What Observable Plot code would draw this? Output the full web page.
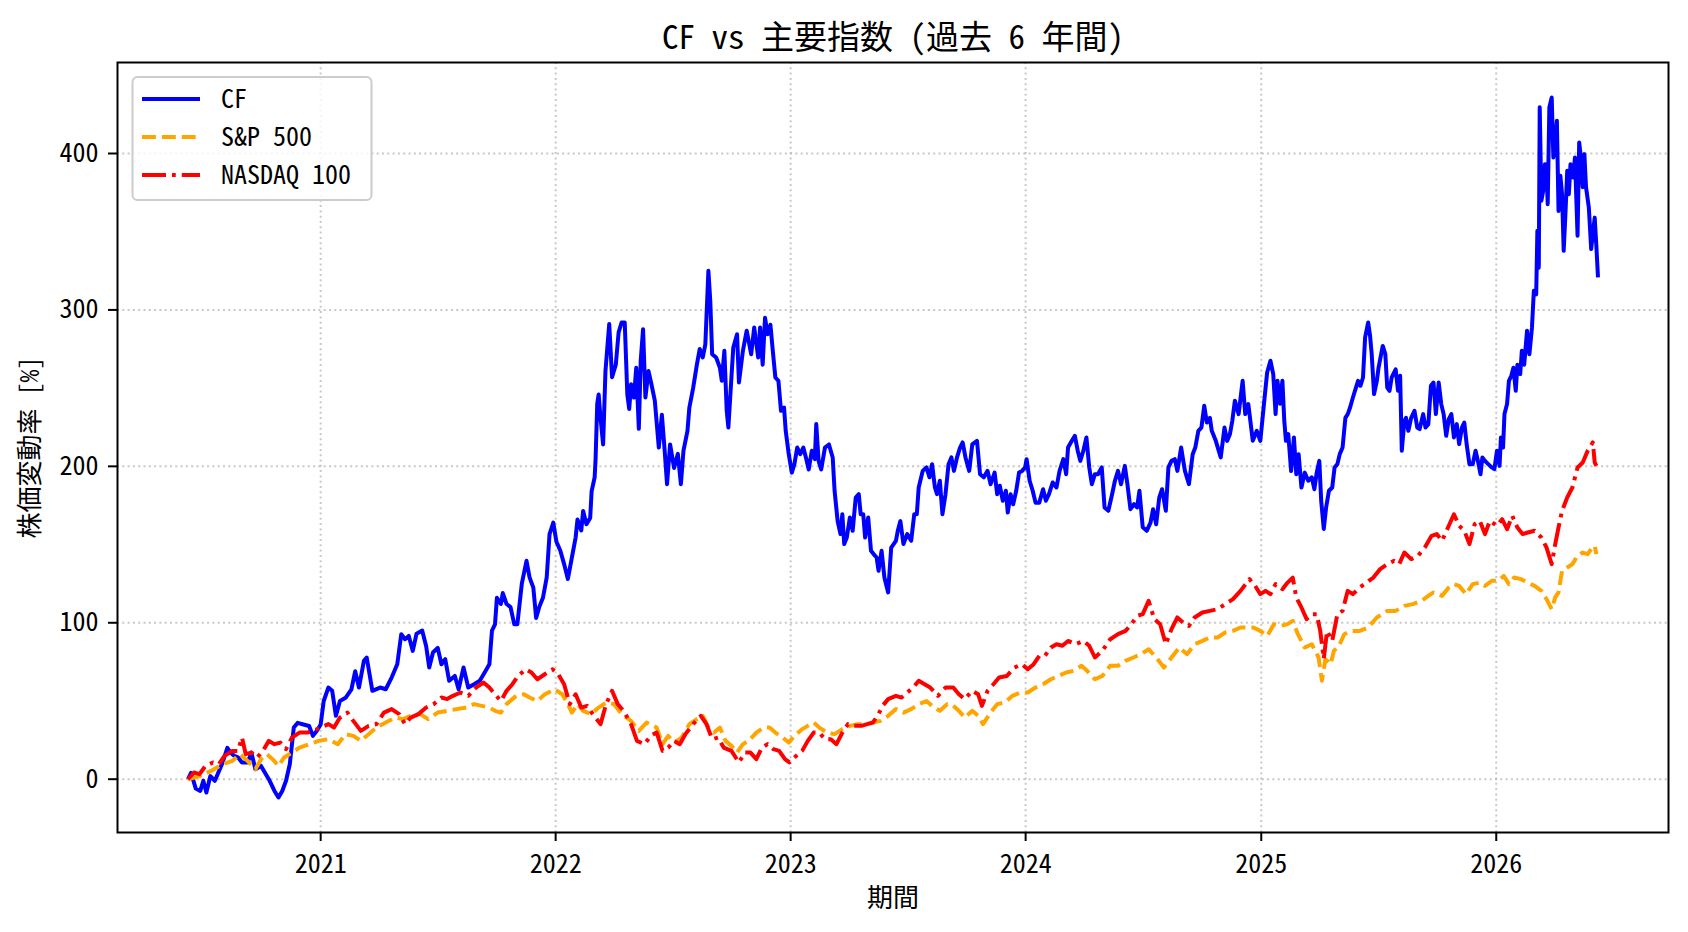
<!DOCTYPE html>
<html>
<head>
<meta charset="utf-8">
<script src="https://cdn.jsdelivr.net/npm/d3@7"></script>
<script src="https://cdn.jsdelivr.net/npm/@observablehq/plot@0.6"></script>
<style>
  html, body { margin: 0; padding: 0; background: #ffffff; }
  #chart { width: 1688px; height: 932px; }
</style>
</head>
<body>
<div id="chart"></div>
<script>
// ---- Data (decimal year, % change) ----
const titleText = "CF vs 主要指数 (過去 6 年間)";
const xLabel = "期間";
const yLabel = "株価変動率 [%]";
const seriesNames = ["CF", "S&P 500", "NASDAQ 100"];
const seriesColors = ["blue", "orange", "red"];
const xTickYears = [2021, 2022, 2023, 2024, 2025, 2026];
const yTickValues = [0, 100, 200, 300, 400];

const cfSeries = [
[2020.437,0],[2020.450,4],[2020.470,-6],[2020.489,-7.5],[2020.502,-1],[2020.515,-8.5],[2020.532,2],[2020.551,-1],[2020.568,5],[2020.584,10.7],[2020.604,20],[2020.617,17],[2020.633,15],[2020.649,14],[2020.666,10.7],[2020.690,10.7],[2020.706,17],[2020.723,6.4],[2020.747,8.5],[2020.763,4.3],[2020.780,0],[2020.804,-7.5],[2020.821,-11.7],[2020.837,-7.5],[2020.853,-1],[2020.869,9.6],[2020.886,33],[2020.902,36],[2020.927,35],[2020.951,34],[2020.967,27.7],[2020.984,31],[2021.000,35],[2021.013,50],[2021.033,58.6],[2021.049,56.5],[2021.065,40.5],[2021.082,50],[2021.106,52],[2021.131,57.5],[2021.147,69],[2021.163,58.6],[2021.184,75.7],[2021.196,77.8],[2021.220,56.5],[2021.253,58.6],[2021.277,57.5],[2021.302,65],[2021.326,73.5],[2021.343,92.7],[2021.359,89.5],[2021.375,91.6],[2021.392,82],[2021.408,93],[2021.432,95],[2021.449,85],[2021.462,71.4],[2021.478,81],[2021.498,84],[2021.514,73.5],[2021.530,76.7],[2021.547,62.9],[2021.571,66],[2021.587,57.5],[2021.608,71.4],[2021.628,58.6],[2021.653,60.7],[2021.677,62.9],[2021.701,69],[2021.718,73.5],[2021.729,95],[2021.742,99],[2021.750,116],[2021.767,112],[2021.775,119],[2021.791,112],[2021.808,110],[2021.824,99],[2021.837,99],[2021.856,125],[2021.876,139.6],[2021.889,129],[2021.905,122.5],[2021.917,103],[2021.930,110],[2021.946,116],[2021.962,129],[2021.974,156.7],[2021.990,164],[2022.003,152],[2022.020,146],[2022.036,137.5],[2022.052,128],[2022.069,141.7],[2022.085,154.5],[2022.093,166],[2022.109,159],[2022.117,171.5],[2022.131,163],[2022.147,167],[2022.153,184],[2022.166,193],[2022.170,205],[2022.177,240],[2022.183,246],[2022.191,231],[2022.202,214],[2022.212,261],[2022.228,291],[2022.240,257],[2022.256,265],[2022.268,285.6],[2022.281,292],[2022.294,292],[2022.305,246],[2022.313,236.6],[2022.321,252.5],[2022.333,244],[2022.343,263],[2022.354,224],[2022.362,267.5],[2022.372,287.7],[2022.382,244],[2022.395,261],
[2022.406,253.6],[2022.422,242],[2022.439,212],[2022.452,233],[2022.463,212],[2022.474,188.6],[2022.487,214],[2022.504,199],[2022.520,208],[2022.533,188.6],[2022.544,210],[2022.561,222.7],[2022.569,237.6],[2022.585,250],[2022.601,265],[2022.613,275],[2022.626,269.6],[2022.637,278],[2022.650,325],[2022.658,305.8],[2022.666,271.7],[2022.683,269.6],[2022.699,263],[2022.707,254.7],[2022.718,273.9],[2022.728,235.5],[2022.735,224.8],[2022.748,256.8],[2022.756,276],[2022.772,284.5],[2022.780,253.6],[2022.797,274],[2022.813,286.7],[2022.832,271.7],[2022.845,288.8],[2022.862,269.6],[2022.870,288.8],[2022.881,265],[2022.891,295],[2022.902,284.5],[2022.914,290.5],[2022.924,274],[2022.935,256.8],[2022.948,254.7],[2022.959,235.5],[2022.972,237.6],[2022.979,222.7],[2022.992,207.8],[2023.005,196],[2023.016,201.4],[2023.028,212],[2023.041,207.8],[2023.054,212],[2023.065,205.7],[2023.077,198],[2023.090,210],[2023.103,204.6],[2023.109,227],[2023.119,203.5],[2023.130,198],[2023.146,212],[2023.163,214],[2023.179,205.7],[2023.187,184.4],[2023.200,165],[2023.212,156.7],[2023.220,169.4],[2023.228,150.3],[2023.239,154.5],[2023.252,167.3],[2023.264,158.8],[2023.277,180],[2023.290,182.2],[2023.298,169.4],[2023.309,169.4],[2023.317,154.5],[2023.330,167.3],[2023.342,146],[2023.353,143.9],[2023.366,141.7],[2023.374,133.2],[2023.387,146],[2023.399,129],[2023.415,119.4],[2023.428,148],[2023.448,152.4],[2023.456,158.8],[2023.467,165],[2023.480,150.3],[2023.496,156.7],[2023.513,152.4],[2023.526,169.4],[2023.537,169.4],[2023.545,186.5],[2023.562,197.1],[2023.578,199.3],[2023.591,193],[2023.602,201.4],[2023.614,186.5],[2023.623,182.2],[2023.635,190.8],[2023.646,169.4],[2023.659,182.2],[2023.672,201.4],[2023.684,205.7],[2023.695,197.1],[2023.708,205.7],[2023.721,212],[2023.732,215.3],[2023.744,205.7],[2023.760,197.1],[2023.773,214],[2023.793,216.3],[2023.806,195],[2023.822,193],[2023.838,197.1],[2023.851,188.6],[2023.868,196],[2023.879,182.2],[2023.890,187.6],[2023.903,178],[2023.916,184.4],[2023.924,170.5],[2023.936,182.2],[2023.947,175.8],[2023.960,184.4],[2023.972,196],[2023.985,197.1],[2023.998,199.3],[2024.004,204.6],[2024.017,190.8],[2024.030,184.4],[2024.042,176.8],[2024.058,176.8],[2024.074,185.4],[2024.086,178],[2024.099,182.2],[2024.115,189.7],[2024.131,186.5],[2024.144,197.1],[2024.160,204.6],[2024.172,195],[2024.180,212],[2024.196,216.3],[2024.209,219.5],[2024.221,210],[2024.232,203.5],[2024.245,210],[2024.258,218.5],[2024.270,199.3],[2024.281,188.6],[2024.294,195],[2024.307,195],[2024.323,199.3],[2024.335,173.7],[2024.351,171.6],[2024.367,182.2],[2024.379,190.8],[2024.392,197.1],[2024.405,188.6],[2024.421,200.3],[2024.432,188.6],[2024.445,172.6],[2024.460,175.8],[2024.473,173.7],[2024.483,184.4],[2024.497,161],[2024.514,158.8],[2024.530,164],[2024.541,172.6],[2024.554,163],[2024.567,180],[2024.579,185.4],[2024.595,171.6],[2024.606,199.3],[2024.619,203.5],[2024.633,204.6],[2024.644,197.1],[2024.660,212],[2024.676,197.1],[2024.693,188.6],[2024.709,207.8],[2024.720,212],[2024.733,222.7],[2024.746,224.8],[2024.758,238.7],[2024.769,228],[2024.782,231],[2024.790,222.7],[2024.807,216.3],[2024.828,205.7],[2024.844,224.8],[2024.855,216.3],[2024.867,220.6],[2024.877,229],[2024.888,242],[2024.904,233.4],[2024.921,254.7],[2024.932,233.4],[2024.945,239.8],
[2024.964,216.3],[2024.981,222.7],[2024.996,216.3],[2025.010,237.6],[2025.025,260],[2025.039,267.5],[2025.051,259],[2025.061,233.4],[2025.069,254.7],[2025.080,240],[2025.090,254.7],[2025.098,229],[2025.105,216.3],[2025.115,220.6],[2025.127,197],[2025.139,218.5],[2025.149,195],[2025.159,207.8],[2025.171,186.5],[2025.185,196],[2025.200,190.8],[2025.215,193],[2025.226,185.4],[2025.236,196],[2025.247,203.5],[2025.255,178],[2025.266,160],[2025.276,173.7],[2025.288,184.4],[2025.302,186.5],[2025.312,199.3],[2025.324,201.4],[2025.334,207.8],[2025.346,212],[2025.358,231],[2025.368,233.4],[2025.378,237.6],[2025.390,244],[2025.401,249.4],[2025.412,254.7],[2025.422,251.5],[2025.433,256.8],[2025.442,282.4],[2025.455,292],[2025.463,283.5],[2025.470,271.7],[2025.480,246.2],[2025.492,254.7],[2025.499,263],[2025.517,277],[2025.528,271.7],[2025.536,250.4],[2025.546,248.3],[2025.555,256.8],[2025.572,262],[2025.582,248.3],[2025.591,257.9],[2025.598,210],[2025.609,229],[2025.616,231],[2025.626,222.7],[2025.638,231],[2025.652,235.5],[2025.664,224.8],[2025.674,223.8],[2025.689,233.4],[2025.699,224.8],[2025.711,227],[2025.722,251.5],[2025.733,253.6],[2025.743,233.4],[2025.755,253.6],[2025.766,239.8],[2025.776,233.4],[2025.787,219.5],[2025.798,230.2],[2025.809,233.4],[2025.820,218.5],[2025.832,227],[2025.842,214.2],[2025.854,224.8],[2025.864,228],[2025.874,214.2],[2025.886,201.4],[2025.900,201.4],[2025.912,210],[2025.922,203.5],[2025.933,195],[2025.941,205.7],[2025.952,203.5],[2025.966,201.4],[2025.981,199.3],[2025.992,198.2],[2026.003,210],[2026.014,200.3],[2026.020,218.5],[2026.029,212],[2026.035,233.4],[2026.046,239.8],[2026.054,254.7],[2026.064,257.9],[2026.073,263],[2026.083,248.3],[2026.090,265],[2026.102,259],[2026.109,273.9],[2026.119,265],[2026.131,286.7],[2026.141,271.7],[2026.152,288.8],[2026.160,312.2],[2026.170,310],[2026.175,350.6],[2026.181,327],[2026.185,429.5],[2026.192,369.8],[2026.200,376.2],[2026.207,393.2],[2026.213,393],[2026.219,367.6],[2026.226,429.5],[2026.236,435.8],[2026.243,397.5],[2026.251,408],[2026.258,420.9],[2026.265,363.3],[2026.273,385.7],[2026.280,374],[2026.287,337.8],[2026.295,363.3],[2026.302,389],[2026.309,374],[2026.316,393.2],[2026.327,384.7],[2026.335,397.5],[2026.346,347.4],[2026.353,407],[2026.360,397.5],[2026.368,378.5],[2026.375,399.6],[2026.382,378.5],[2026.394,365.5],[2026.404,338.9],[2026.411,348.5],[2026.419,359],[2026.426,341],[2026.433,320.8]
];

const spSeries = [
[2020.437,0],[2020.486,2],[2020.535,5.3],[2020.584,9.6],[2020.625,11.7],[2020.657,16],[2020.690,11.7],[2020.723,6.4],[2020.747,12.8],[2020.772,16],[2020.796,12.8],[2020.821,8.5],[2020.845,13.9],[2020.878,17],[2020.910,20.2],[2020.951,22.4],[2020.992,24.5],[2021.033,25.6],[2021.073,22.4],[2021.106,28.8],[2021.139,27.7],[2021.171,24.5],[2021.204,28.8],[2021.237,33],[2021.277,36.2],[2021.318,39.4],[2021.351,38.4],[2021.383,40.5],[2021.424,41.6],[2021.457,38.4],[2021.498,42.6],[2021.538,43.7],[2021.579,44.8],[2021.620,45.8],[2021.653,48],[2021.685,46.9],[2021.718,45.8],[2021.742,43.7],[2021.767,42.6],[2021.791,48],[2021.832,53.3],[2021.865,54.3],[2021.889,52.2],[2021.922,50],[2021.954,54.3],[2021.995,57.5],[2022.028,54.3],[2022.052,48],[2022.069,42.6],[2022.093,48],[2022.117,43.7],[2022.150,41.6],[2022.183,45.8],[2022.215,49],[2022.248,48],[2022.281,41.6],[2022.321,37.3],[2022.354,30.9],[2022.387,36.2],
[2022.430,33],[2022.455,22.4],[2022.479,27.7],[2022.504,23.4],[2022.536,26.6],[2022.569,35.2],[2022.601,38.4],[2022.626,40.5],[2022.650,33],[2022.674,29.8],[2022.699,33],[2022.723,24.5],[2022.748,21.3],[2022.772,17],[2022.797,22.4],[2022.821,24.5],[2022.854,29.8],[2022.886,33],[2022.910,33],[2022.935,29.8],[2022.967,26.6],[2022.992,23.4],[2023.016,27.7],[2023.049,32],[2023.073,34.1],[2023.098,36.2],[2023.122,33],[2023.155,29.8],[2023.187,28.8],[2023.220,32],[2023.252,34.1],[2023.285,35.2],[2023.317,35.2],[2023.350,36.2],[2023.382,37.3],[2023.415,40.5],[2023.448,44.8],[2023.480,42.6],[2023.513,44.8],[2023.545,48],[2023.578,50],[2023.610,45.8],[2023.635,43.7],[2023.667,48],[2023.692,46.9],[2023.716,43.7],[2023.741,39.4],[2023.773,43.7],[2023.798,40.5],[2023.819,35.2],[2023.846,41.6],[2023.879,48],[2023.911,49],[2023.944,53.3],[2023.977,55.4],[2024.009,55.4],[2024.042,58.6],[2024.074,60.7],[2024.107,63.9],[2024.139,66],[2024.172,68.2],[2024.204,69.3],[2024.237,72.5],[2024.261,69.3],[2024.294,63.9],[2024.326,66],[2024.359,72.5],[2024.392,72.5],[2024.424,75.7],[2024.457,77.8],[2024.489,79.9],[2024.522,83.1],[2024.554,77.8],[2024.587,71.4],[2024.619,77.8],[2024.652,84.2],[2024.685,79.9],[2024.717,86.3],[2024.750,88.4],[2024.782,90.6],[2024.815,90.6],[2024.847,93.8],[2024.880,94.8],[2024.912,97],
[2024.966,97],[2024.996,94.8],[2025.025,91.6],[2025.054,99.1],[2025.083,98],[2025.112,99.1],[2025.134,101.2],[2025.156,92.7],[2025.185,84.2],[2025.215,86.3],[2025.244,77.8],[2025.258,63],[2025.273,76.7],[2025.295,73.5],[2025.309,82],[2025.331,85.3],[2025.353,92.7],[2025.382,94.8],[2025.419,94.8],[2025.455,97],[2025.492,103.4],[2025.536,107.6],[2025.572,107.6],[2025.609,110.8],[2025.645,111.9],[2025.682,114],[2025.711,117.2],[2025.733,119.4],[2025.769,117.2],[2025.798,122.5],[2025.820,124.7],[2025.842,123.6],[2025.871,118.3],[2025.900,124.7],[2025.930,125.7],[2025.952,123.6],[2025.981,126.8],[2026.010,126.8],[2026.032,130],[2026.054,124.7],[2026.076,128.9],[2026.105,127.9],[2026.134,125.7],[2026.163,123.6],[2026.192,120.4],[2026.214,115.1],[2026.236,108.7],[2026.251,116.2],[2026.265,119.4],[2026.280,133.2],[2026.302,135.3],[2026.324,137.5],[2026.346,142.8],[2026.368,144.9],[2026.389,143.9],[2026.404,147.1],[2026.419,149.2],[2026.426,143.9]
];

const ndSeries = [
[2020.437,0],[2020.462,4.3],[2020.486,3.2],[2020.511,8.5],[2020.543,10.7],[2020.568,9.6],[2020.592,14.9],[2020.625,18.1],[2020.649,18.1],[2020.666,26.6],[2020.682,16],[2020.706,17],[2020.731,13.9],[2020.755,18.1],[2020.780,24.5],[2020.804,22.4],[2020.829,23.4],[2020.853,19.2],[2020.878,26.6],[2020.910,29.8],[2020.943,29.8],[2020.967,30.9],[2021.000,33],[2021.033,35.2],[2021.057,33],[2021.082,39.4],[2021.114,42.6],[2021.139,37.3],[2021.171,30.9],[2021.204,34.1],[2021.237,35.2],[2021.269,42.6],[2021.302,44.8],[2021.334,41.6],[2021.359,35.2],[2021.383,39.4],[2021.416,41.6],[2021.449,45.8],[2021.481,48],[2021.514,52.2],[2021.538,51.2],[2021.563,53.3],[2021.595,55.4],[2021.628,53.3],[2021.661,58.6],[2021.693,61.8],[2021.718,58.6],[2021.742,54.3],[2021.767,50],[2021.791,56.5],[2021.816,60.7],[2021.840,66],[2021.873,70.3],[2021.897,68.2],[2021.922,63.9],[2021.954,67.1],[2021.987,70.3],[2022.011,67.1],[2022.036,60.7],[2022.060,48],[2022.085,54.3],[2022.109,45.8],[2022.134,46.9],[2022.158,41.6],[2022.191,35.2],[2022.215,48],[2022.240,56.5],[2022.264,48],[2022.289,43.7],[2022.321,35.2],[2022.346,24.5],[2022.378,22.4],[2022.406,28],
[2022.430,29.8],[2022.455,18.1],[2022.479,20.2],[2022.504,24.5],[2022.528,22.4],[2022.552,28.8],[2022.585,35.2],[2022.618,40.5],[2022.642,35.2],[2022.666,25.6],[2022.691,26.6],[2022.715,20.2],[2022.748,18.1],[2022.780,10.7],[2022.805,17],[2022.829,17],[2022.854,12.8],[2022.878,20.2],[2022.902,22.4],[2022.927,19.2],[2022.951,18.1],[2022.976,12.8],[2022.995,10.7],[2023.016,13.9],[2023.049,18.1],[2023.073,24.5],[2023.098,29.8],[2023.122,29.8],[2023.146,25.6],[2023.171,25.6],[2023.195,22.4],[2023.220,29.8],[2023.244,35.2],[2023.269,34.1],[2023.301,34.1],[2023.326,35.2],[2023.350,36.2],[2023.374,41.6],[2023.391,46.9],[2023.415,51.2],[2023.448,53.3],[2023.472,52.2],[2023.496,55.4],[2023.521,58.6],[2023.545,62.9],[2023.570,60.7],[2023.594,58.6],[2023.627,53.3],[2023.659,58.6],[2023.692,58.6],[2023.716,54.3],[2023.741,51.2],[2023.773,56.5],[2023.798,54.3],[2023.814,46.9],[2023.838,56.5],[2023.863,60.7],[2023.887,65],[2023.920,66],[2023.952,71.4],[2023.985,73.5],[2024.009,70.3],[2024.034,73.5],[2024.058,78.9],[2024.082,78.9],[2024.107,84.2],[2024.131,86.3],[2024.156,85.3],[2024.180,88.4],[2024.213,86.3],[2024.245,88.4],[2024.270,85.3],[2024.294,77.8],[2024.326,82.1],[2024.359,89.5],[2024.392,92.7],[2024.424,94.8],[2024.449,99.1],[2024.473,104.4],[2024.497,105.5],[2024.522,114],[2024.546,102.3],[2024.571,99.1],[2024.595,86.3],[2024.619,95.9],[2024.644,103.4],[2024.668,100.2],[2024.693,98],[2024.717,103.4],[2024.750,106.6],[2024.782,107.6],[2024.815,108.7],[2024.847,111.9],[2024.880,115.1],[2024.912,120.4],[2024.950,127.9],
[2024.974,123.6],[2024.996,118.3],[2025.018,120.4],[2025.039,118.3],[2025.061,124.7],[2025.090,121.5],[2025.112,125.7],[2025.134,128.9],[2025.149,116.2],[2025.171,109.8],[2025.193,102.3],[2025.215,105.5],[2025.236,105.5],[2025.251,94.8],[2025.266,77],[2025.280,94.8],[2025.302,88.4],[2025.324,105.5],[2025.346,107.6],[2025.368,120.4],[2025.390,118.3],[2025.419,122.5],[2025.448,125.7],[2025.477,128.9],[2025.506,134.3],[2025.536,137.5],[2025.565,139.6],[2025.587,137.5],[2025.609,144.9],[2025.638,140.7],[2025.667,142.8],[2025.696,148.1],[2025.725,155.6],[2025.747,156.7],[2025.769,152.4],[2025.798,162],[2025.820,169.4],[2025.842,162],[2025.864,158.8],[2025.886,150.3],[2025.908,163],[2025.930,165.2],[2025.952,156.7],[2025.973,165.2],[2026.003,162],[2026.025,166.2],[2026.046,159.8],[2026.068,168.4],[2026.090,160.9],[2026.112,156.7],[2026.134,157.7],[2026.163,158.8],[2026.192,154.5],[2026.214,148.1],[2026.236,137.5],[2026.251,150.3],[2026.265,160.9],[2026.280,171.6],[2026.302,180.1],[2026.324,186.5],[2026.346,199.3],[2026.368,202.5],[2026.389,209.9],[2026.411,215.3],[2026.419,202.5],[2026.426,200.3]
];

// ---- helpers ----
function yearToDate(y) {
  const yr = Math.floor(y);
  const a = Date.UTC(yr, 0, 1), b = Date.UTC(yr + 1, 0, 1);
  return new Date(a + (y - yr) * (b - a));
}
const toRows = (arr, name) => arr.map(([y, v]) => ({date: yearToDate(y), value: v, series: name}));
const cfRows = toRows(cfSeries, seriesNames[0]);
const spRows = toRows(spSeries, seriesNames[1]);
const ndRows = toRows(ndSeries, seriesNames[2]);
const allRows = cfRows.concat(spRows, ndRows);

// matplotlib-like 5% autoscale margins
const [x0, x1] = d3.extent(allRows, d => +d.date);
const [y0, y1] = d3.extent(allRows, d => d.value);
const xPad = (x1 - x0) * 0.05, yPad = (y1 - y0) * 0.05;
const xDomain = [new Date(x0 - xPad), new Date(x1 + xPad)];
const yDomain = [y0 - yPad, y1 + yPad];
const xTicks = xTickYears.map(y => new Date(Date.UTC(y, 0, 1)));

const FONT = "'Noto Sans Mono CJK JP', 'Noto Sans CJK JP', 'Noto Sans', sans-serif";
const gridStyle = {stroke: "#b0b0b0", strokeOpacity: 0.7, strokeWidth: 2, strokeDasharray: "2,3.3"};
const LW = 4;

const chart = Plot.plot({
  width: 1688,
  height: 932,
  marginTop: 62,
  marginRight: 20,
  marginBottom: 100,
  marginLeft: 117,
  style: {fontFamily: FONT, fontSize: "26px", background: "#ffffff", color: "#000000"},
  x: {type: "utc", domain: xDomain},
  y: {domain: yDomain},
  marks: [
    Plot.gridX(xTicks, gridStyle),
    Plot.gridY(yTickValues, gridStyle),
    Plot.line(cfRows, {x: "date", y: "value", stroke: seriesColors[0], strokeWidth: LW, strokeLinejoin: "round", strokeLinecap: "butt"}),
    Plot.line(spRows, {x: "date", y: "value", stroke: seriesColors[1], strokeWidth: LW, strokeDasharray: "13.9,6", strokeLinejoin: "round", strokeLinecap: "butt"}),
    Plot.line(ndRows, {x: "date", y: "value", stroke: seriesColors[2], strokeWidth: LW, strokeDasharray: "24,6,3.75,6", strokeLinejoin: "round", strokeLinecap: "butt"}),
    Plot.frame({stroke: "#000000", strokeWidth: 2}),
    Plot.axisX(xTicks, {tickSize: 9, tickPadding: 13, strokeWidth: 2, tickFormat: d => String(d.getUTCFullYear()), label: null, fontSize: 26}),
    Plot.axisY(yTickValues, {tickSize: 9, tickPadding: 10, strokeWidth: 2, tickFormat: d => String(d), label: null, fontSize: 26}),
    Plot.text([titleText], {frameAnchor: "top", dy: -37, fontSize: 33, fill: "#000000", textAnchor: "middle"}),
    Plot.text([xLabel], {frameAnchor: "bottom", dy: 74, fontSize: 26, fill: "#000000", textAnchor: "middle"}),
    Plot.text([yLabel], {frameAnchor: "left", dx: -87, rotate: -90, fontSize: 26, fill: "#000000", textAnchor: "middle"})
  ]
});

document.getElementById("chart").appendChild(chart);

// ---- legend (upper left, matplotlib style) ----
const svg = d3.select(chart);
const lg = svg.append("g").attr("class", "legend");
lg.append("rect")
  .attr("x", 132.5).attr("y", 77).attr("width", 239).attr("height", 123)
  .attr("rx", 5).attr("ry", 5)
  .attr("fill", "#ffffff").attr("fill-opacity", 0.8)
  .attr("stroke", "#cccccc").attr("stroke-width", 2);
const dashes = [null, "13.9,6", "24,6,3.75,6"];
seriesNames.forEach((name, i) => {
  const cy = 99 + i * 38;
  lg.append("line")
    .attr("x1", 142).attr("x2", 200).attr("y1", cy).attr("y2", cy)
    .attr("stroke", seriesColors[i]).attr("stroke-width", LW)
    .attr("stroke-linecap", "butt")
    .attr("stroke-dasharray", dashes[i]);
  lg.append("text")
    .attr("x", 221).attr("y", cy).attr("dy", "0.35em")
    .attr("text-anchor", "start")
    .attr("font-family", FONT).attr("font-size", 26).attr("fill", "#000000")
    .text(name);
});
</script>
</body>
</html>
